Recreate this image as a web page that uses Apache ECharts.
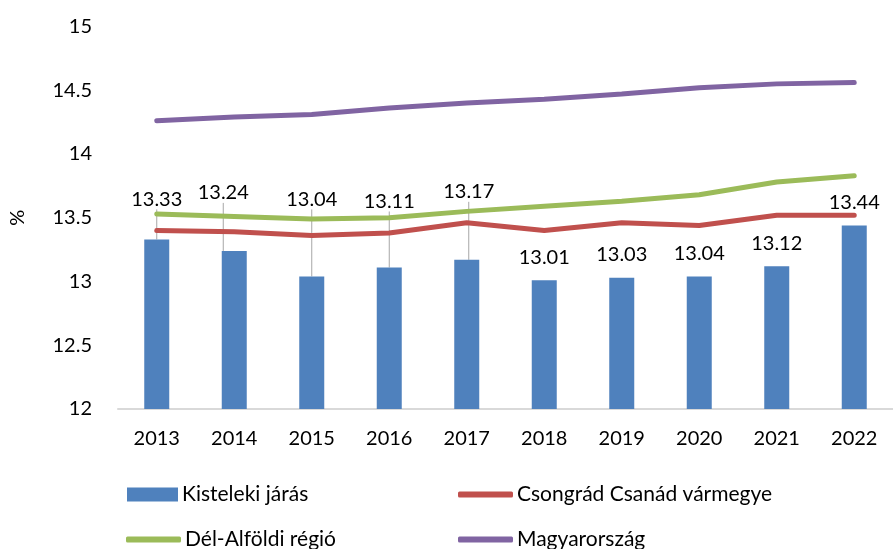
<!DOCTYPE html>
<html>
<head>
<meta charset="utf-8">
<script src="https://cdn.jsdelivr.net/npm/echarts@6/dist/echarts.min.js"></script>
<style>
    html, body { margin: 0; padding: 0; background: #fff; }
    #chart { width: 893px; height: 549px; }
</style>
</head>
<body>
<div id="chart"></div>
<script>
    /* adatok */
    const years = ['2013', '2014', '2015', '2016', '2017', '2018', '2019', '2020', '2021', '2022']
    const kisteleki = [13.33, 13.24, 13.04, 13.11, 13.17, 13.01, 13.03, 13.04, 13.12, 13.44]
    const csongrad = [13.40, 13.39, 13.36, 13.38, 13.46, 13.40, 13.46, 13.44, 13.52, 13.52]
    const delAlfold = [13.53, 13.51, 13.49, 13.50, 13.55, 13.59, 13.63, 13.68, 13.78, 13.83]
    const magyarorszag = [14.26, 14.29, 14.31, 14.36, 14.40, 14.43, 14.47, 14.52, 14.55, 14.56]
    const yTicks = ['12', '12.5', '13', '13.5', '14', '14.5', '15']

    /* címkék eltolása (vezetővonallal) */
    const labelShift = [[0, -17], [-11, -35], [0, -54], [0, -43], [2, -45], [0, 0], [0, 0], [0, 0], [0, 0], [0, 0]]

    const font = 'Lato, "Noto Sans", sans-serif'

    /* egy jelmagyarázat-elem */
    function legendItem (name, left, top, isLine) {
        return {
            left: left,
            top: top,
            padding: 0,
            itemWidth: isLine ? 55 : 51,
            itemHeight: isLine ? 6 : 14,
            icon: isLine ? 'roundRect' : 'rect',
            textStyle: { fontSize: 21, color: '#000', fontFamily: font, padding: [0, 0, 0, -1] },
            data: [name]
        }
    }

    const chart = echarts.init(document.getElementById('chart'))
    chart.setOption({
        animation: false,
        textStyle: { fontFamily: font },
        grid: { left: 110, right: -10, top: 26.5, bottom: 140 },
        legend: [
            legendItem('Kisteleki járás', 127, 484, false),
            legendItem('Csongrád Csanád vármegye', 458, 484, true),
            legendItem('Dél-Alföldi régió', 126, 529, true),
            legendItem('Magyarország', 458, 529, true)
        ],
        xAxis: {
            type: 'category',
            data: years,
            axisLine: { lineStyle: { color: '#d9d9d9', width: 2 } },
            axisTick: { show: false },
            axisLabel: { fontSize: 20, color: '#000', margin: 20, fontFamily: font }
        },
        yAxis: {
            type: 'value',
            min: 12,
            max: 15,
            interval: 0.5,
            name: '%',
            nameLocation: 'middle',
            nameRotate: 90,
            nameGap: 90,
            nameTextStyle: { fontSize: 20, color: '#000', fontFamily: font },
            splitLine: { show: false },
            axisLine: { show: false },
            axisTick: { show: false },
            axisLabel: {
                fontSize: 20,
                color: '#000',
                margin: 26,
                fontFamily: font,
                formatter: function (v) {
                    return yTicks.find(t => Number(t) === v) || String(v)
                }
            }
        },
        series: [
            {
                name: 'Kisteleki járás',
                type: 'bar',
                data: kisteleki.map((v, i) => ({
                    value: v,
                    labelLine: { show: labelShift[i][1] !== 0 }
                })),
                barWidth: 25,
                itemStyle: { color: '#4f81bd' },
                label: {
                    show: true,
                    position: 'top',
                    distance: 13,
                    fontSize: 20,
                    color: '#000',
                    fontFamily: font,
                    formatter: p => p.value.toFixed(2)
                },
                labelLine: {
                    show: true,
                    lineStyle: { color: '#a6a6a6', width: 1 }
                },
                labelLayout: function (params) {
                    const s = labelShift[params.dataIndex]
                    return { dx: s[0], dy: s[1] }
                }
            },
            {
                name: 'Csongrád Csanád vármegye',
                type: 'line',
                data: csongrad,
                symbol: 'none',
                lineStyle: { color: '#c0504d', width: 5, cap: 'round' },
                itemStyle: { color: '#c0504d' }
            },
            {
                name: 'Dél-Alföldi régió',
                type: 'line',
                data: delAlfold,
                symbol: 'none',
                lineStyle: { color: '#9bbb59', width: 5, cap: 'round' },
                itemStyle: { color: '#9bbb59' }
            },
            {
                name: 'Magyarország',
                type: 'line',
                data: magyarorszag,
                symbol: 'none',
                lineStyle: { color: '#8064a2', width: 5, cap: 'round' },
                itemStyle: { color: '#8064a2' }
            }
        ]
    })
</script>
</body>
</html>
